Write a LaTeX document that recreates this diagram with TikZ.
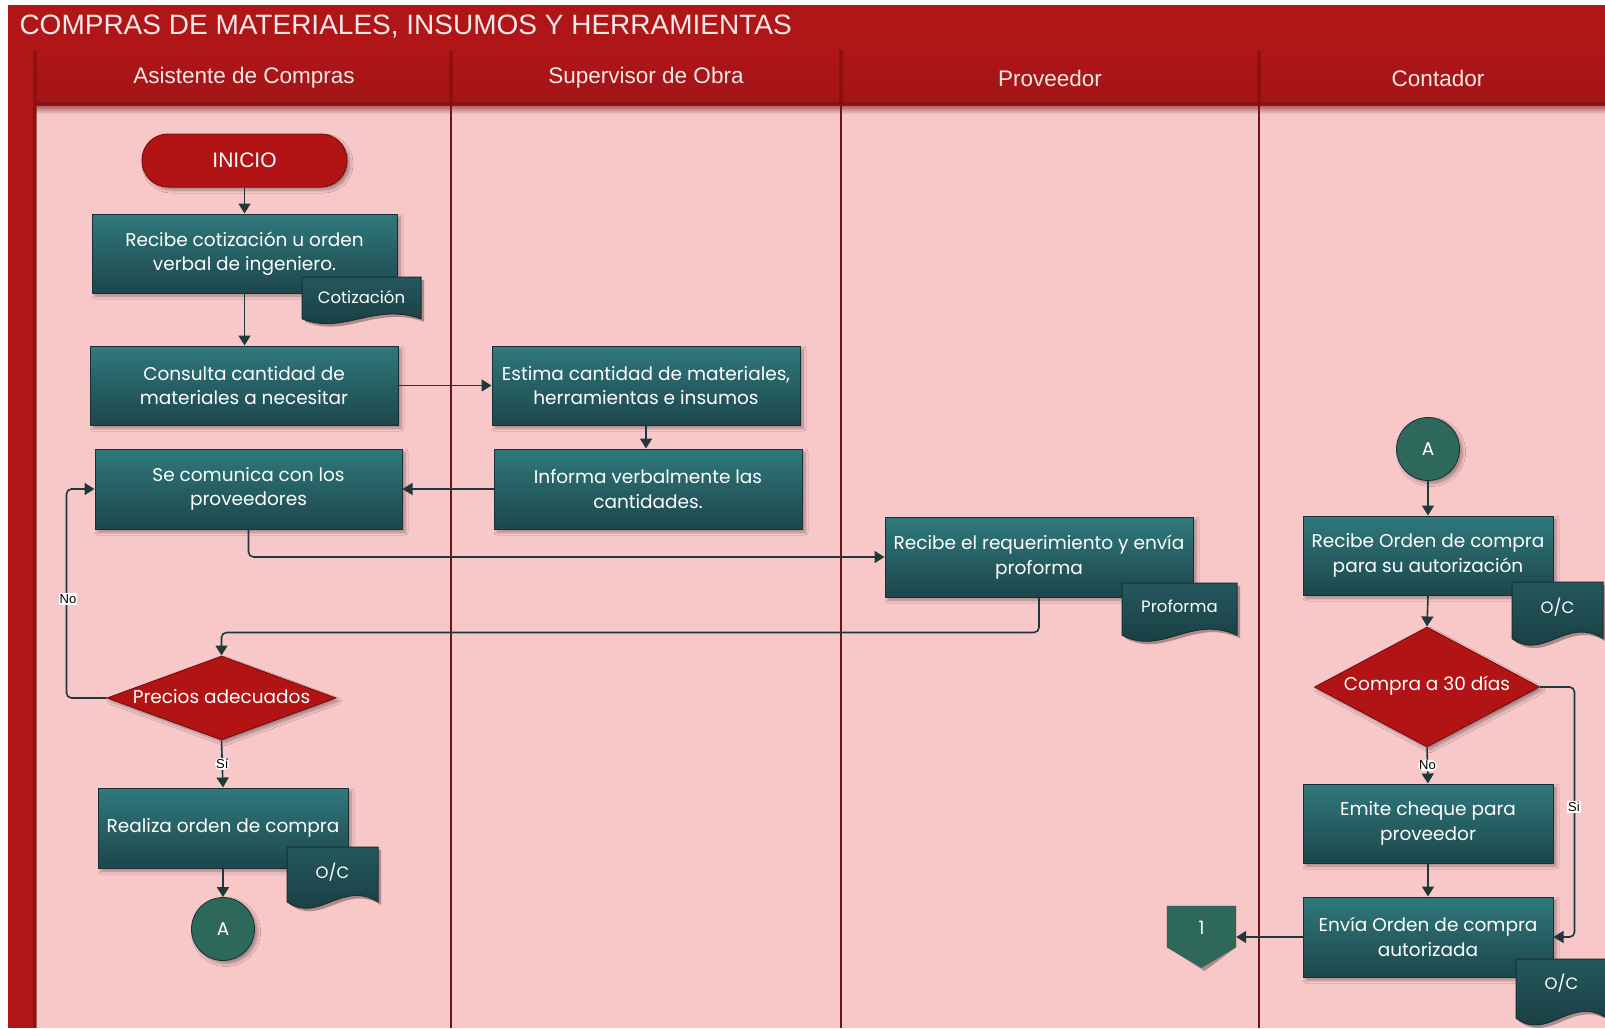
\documentclass[tikz,border=0pt]{standalone}
\usepackage{fontspec}
\setmainfont{Poppins}
\newfontfamily\headfont{Liberation Sans}
\usetikzlibrary{arrows.meta,shapes.geometric,shadows.blur}

\definecolor{hdrred}{RGB}{176,22,24}
\definecolor{hdrdark}{RGB}{120,14,16}
\definecolor{lanepink}{RGB}{248,199,200}
\definecolor{laneline}{RGB}{112,20,22}
\definecolor{tealtop}{RGB}{47,121,125}
\definecolor{tealbot}{RGB}{29,70,75}
\definecolor{boxline}{RGB}{22,48,52}
\definecolor{doctop}{RGB}{36,88,93}
\definecolor{docbot}{RGB}{23,58,62}
\definecolor{circfill}{RGB}{46,104,90}
\definecolor{decfill}{RGB}{178,20,22}
\definecolor{decline}{RGB}{125,14,16}
\definecolor{flowcol}{RGB}{30,56,60}
\definecolor{hdrtext}{RGB}{246,232,232}

\newcommand\boxfont{\fontsize{18.5}{24.5}\selectfont}
\newcommand\docfont{\fontsize{16.5}{18}\selectfont}

\tikzset{
  shadowed/.style={blur shadow={shadow xshift=3pt,shadow yshift=-3pt,shadow opacity=35,
    shadow blur steps=6,shadow blur radius=3pt}},
  proc/.style={rectangle,draw=boxline,line width=1pt,top color=tealtop,bottom color=tealbot,
    text=white,font=\boxfont,align=center,inner sep=2pt,shadowed},
  terminal/.style={rectangle,rounded corners=26pt,draw=decline,line width=1pt,fill=decfill,
    text=white,font=\headfont\fontsize{21}{24}\selectfont,shadowed},
  decision/.style={diamond,draw=decline,line width=1pt,fill=decfill,inner sep=0pt,shadowed},
  dectext/.style={text=white,font=\boxfont},
  connector/.style={circle,draw=boxline,line width=0.8pt,fill=circfill,text=white,
    font=\boxfont,minimum size=63pt,inner sep=0pt,shadowed},
  doctext/.style={text=white,font=\docfont,inner sep=0pt},
  flow/.style={draw=flowcol,line width=1.6pt,rounded corners=5pt,
    -{Triangle[length=10pt,width=12pt]}},
  flowlabel/.style={fill=white,text=black,font=\headfont\fontsize{13}{14}\selectfont,inner sep=1pt},
  lanetitle/.style={text=hdrtext,font=\headfont\fontsize{22.5}{25}\selectfont}
}

% document symbol: rectangle with a wavy lower edge and its caption node
\newcommand\docsym[7]{%
  \fill[black,opacity=0.3,xshift=3pt,yshift=-3pt]
    (#2,#3) -- ++(#4,0) -- ({#2+#4},{#3+0.87*#5})
    .. controls ({#2+0.6*#4},{#3+0.52*#5}) and ({#2+0.35*#4},{#3+1.22*#5}) .. (#2,{#3+0.87*#5}) -- cycle;
  \shade[top color=doctop,bottom color=docbot,draw=boxline,line width=1pt]
    (#2,#3) -- ++(#4,0) -- ({#2+#4},{#3+0.87*#5})
    .. controls ({#2+0.6*#4},{#3+0.52*#5}) and ({#2+0.35*#4},{#3+1.22*#5}) .. (#2,{#3+0.87*#5}) -- cycle;
  \node[doctext] (#1) at ({#2+0.5*#4},#6) {#7};%
}

\begin{document}
\begin{tikzpicture}[x=1pt,y=-1pt]
\useasboundingbox (0,0) rectangle (1605,1028);
\fill[white] (0,0) rectangle (1605,1028);

% pool frame: title bar and left band
\fill[hdrred] (8,5) rectangle (1605,1028);
\node[anchor=west,text=hdrtext,font=\headfont\fontsize{28}{30}\selectfont] (pooltitle) at (16,27)
  {COMPRAS DE MATERIALES, INSUMOS Y HERRAMIENTAS};

% lane bodies
\fill[lanepink] (36,105) rectangle (1605,1028);
\shade[top color=hdrdark!60!lanepink,bottom color=lanepink] (36,105) rectangle (1605,114);
% lane headers
\shade[top color=hdrred,bottom color=hdrred!92!black] (36,50) rectangle (1605,105);
\fill[hdrdark,opacity=0.5] (36,102) rectangle (1605,105);
\fill[hdrdark,opacity=0.6] (33,50) rectangle (37,1028);
% lane separators
\foreach \xs in {451,841,1259}{
  \fill[hdrdark,opacity=0.6] (\xs-2,50) rectangle (\xs+2,105);
  \draw[laneline,line width=2.2pt] (\xs,105) -- (\xs,1028);
}
\node[lanetitle] (laneA) at (244,78) {Asistente de Compras};
\node[lanetitle] (laneB) at (646,78) {Supervisor de Obra};
\node[lanetitle] (laneC) at (1050,78) {Proveedor};
\node[lanetitle] (laneD) at (1438,78) {Contador};

% Asistente de Compras
\node[terminal,minimum width=205pt,minimum height=53pt] (inicio) at (244.5,160.5) {INICIO};
\node[proc,minimum width=305pt,minimum height=79pt] (recibe) at (244.5,253.5)
  {Recibe cotización u orden\\verbal de ingeniero.};
\node[proc,minimum width=308pt,minimum height=79pt] (consulta) at (244,385.5)
  {Consulta cantidad de\\materiales a necesitar};
\node[proc,minimum width=307pt,minimum height=80pt] (comunica) at (248.5,489)
  {Se comunica con los\\proveedores};
\node[decision,minimum width=229pt,minimum height=84pt] (precios) at (221.5,698) {};
\node[dectext] (preciosT) at (221.5,697) {Precios adecuados};
\node[proc,minimum width=250pt,minimum height=80pt] (realiza) at (223,828)
  {Realiza orden de compra};
\node[connector] (conA1) at (223,929) {A};

% Supervisor de Obra
\node[proc,minimum width=308pt,minimum height=79pt] (estima) at (646,385.5)
  {Estima cantidad de materiales,\\herramientas e insumos};
\node[proc,minimum width=308pt,minimum height=80pt] (informa) at (648,489)
  {Informa verbalmente las\\cantidades.};

% Proveedor
\node[proc,minimum width=308pt,minimum height=80pt] (requer) at (1039,557)
  {Recibe el requerimiento y envía\\proforma};

% Contador
\node[connector] (conA2) at (1428,449) {A};
\node[proc,minimum width=250pt,minimum height=79pt] (recOC) at (1428,555.5)
  {Recibe Orden de compra\\para su autorización};
\node[decision,minimum width=225pt,minimum height=120pt] (compra) at (1427,687) {};
\node[dectext] (compraT) at (1427,686) {Compra a 30 días};
\node[proc,minimum width=250pt,minimum height=79pt] (emite) at (1428,823.5)
  {Emite cheque para\\proveedor};
\node[proc,minimum width=250pt,minimum height=80pt] (envia) at (1428,937)
  {Envía Orden de compra\\autorizada};

% off-page connector
\node[minimum width=69pt,minimum height=41pt,inner sep=0pt] (off1) at (1201.5,926.5) {};
\fill[black,opacity=0.3,xshift=3pt,yshift=-3pt]
  (off1.north west) -- (off1.north east) -- (off1.south east) -- (1201.5,968) -- (off1.south west) -- cycle;
\fill[circfill] (off1.north west) -- (off1.north east) -- (off1.south east) -- (1201.5,968) -- (off1.south west) -- cycle;
\node[text=white,font=\boxfont] (off1T) at (1201.5,928) {1};

% documents
\docsym{docCotiz}{302}{277}{119}{48}{297}{Cotización}
\docsym{docProf}{1122}{583}{115}{60}{606}{Proforma}
\docsym{docOC1}{287}{847}{91}{63}{872}{O/C}
\docsym{docOC2}{1512}{582}{91}{65}{607}{O/C}
\docsym{docOC3}{1516}{959}{91}{68}{983}{O/C}

% flow
\draw[flow] (inicio.south) -- (recibe.north);
\draw[flow] (recibe.south) -- (recibe.south |- consulta.north);
\draw[flow] (consulta.east) -- (consulta.east -| estima.west);
\draw[flow] (estima.south) -- (estima.south |- informa.north);
\draw[flow] (informa.west) -- (informa.west -| comunica.east);
\draw[flow] (comunica.south) |- (requer.west);
\draw[flow] (requer.south) -- ++(0,35) -| (precios.north);
\draw[flow] (precios.west) -- ++(-40,0) |- (comunica.west);
\node[flowlabel] (lblNo1) at (68,599) {No};
\draw[flow] (precios.south) -- node[flowlabel] (lblSi1) {Sí} (realiza.north);
\draw[flow] (realiza.south) -- (conA1.north);
\draw[flow] (conA2.south) -- (recOC.north);
\draw[flow] (recOC.south) -- (compra.north);
\draw[flow] (compra.south) -- node[flowlabel] (lblNo2) {No} (emite.north);
\draw[flow] (emite.south) -- (envia.north);
\draw[flow] (compra.east) -- ++(34.5,0) |- (envia.east);
\node[flowlabel] (lblSi2) at (1574,807) {Si};
\draw[flow] (envia.west) -- (envia.west -| off1.east);
\end{tikzpicture}
\end{document}
